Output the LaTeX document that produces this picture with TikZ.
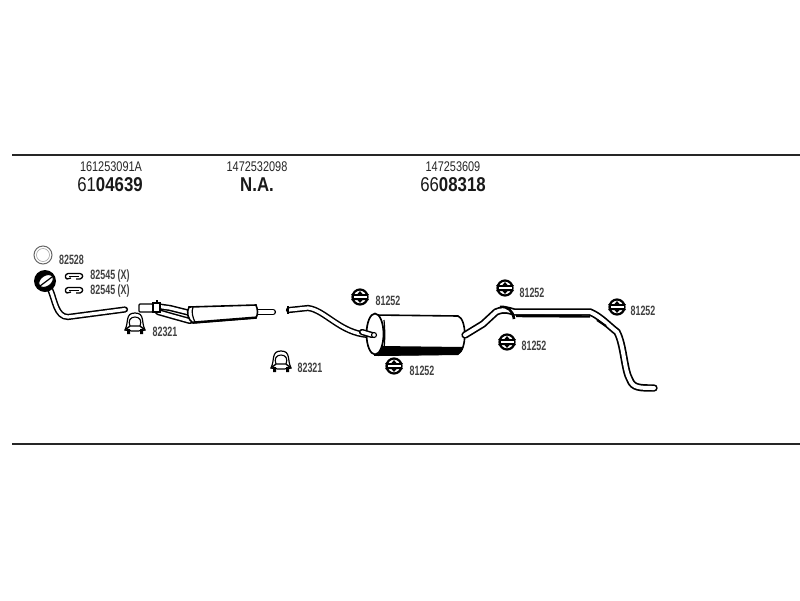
\documentclass[tikz,border=0pt]{standalone}
\usepackage{fontspec}
\setmainfont{Liberation Sans}
\tikzset{
  pipe/.style={double=white, double distance=3.2pt, line width=1.5pt, line cap=round},
  rearpipe/.style={double=white, double distance=4pt, line width=1.7pt, line cap=round},
  part/.style={xscale=.66, font=\fontsize{13.5}{13.5}\selectfont\bfseries, text=black!75, inner sep=0pt},
  ref/.style={xscale=.78, font=\fontsize{14}{14}\selectfont, text=black!85, inner sep=0pt},
  numero/.style={xscale=.84, font=\fontsize{20}{20}\selectfont, text=black!90, inner sep=0pt},
  hanger/.pic={
    \draw[line width=2.2pt, fill=white] (0,0) circle (7.5pt);
    \fill (-9,-3) -- (9,-3) -- (7,0) -- (9,3) -- (-9,3) -- (-7,0) -- cycle;
    \fill[white] (-6.5,-1.2) rectangle (6.5,1.2);
    \fill (0,-3) -- (-2.5,-3) -- (0,-6) -- (2.5,-3) -- cycle (-2.5,3) -- (0,6) -- (2.5,3) -- cycle;
  },
  clamp/.pic={
    \draw[line width=1.2pt, fill=white] (-10,5) .. controls (-6,-3) and (-10,-12) .. (0,-12) .. controls (10,-12) and (6,-3) .. (10,5) -- (3,6) -- (-3,6) -- cycle;
    \draw[line width=1.1pt] (-5,1) .. controls (-7,-4) and (-5,-8) .. (0,-8) .. controls (5,-8) and (7,-4) .. (5,1);
    \draw[line width=1.4pt] (-10,5) -- (-5,1) -- (5,1) -- (10,5);
    \fill (-8,9) rectangle (-5,4) (5,9) rectangle (8,4);
  },
  clip part/.pic={
    \draw[line width=1.3pt] (-3,1) -- (-7,2) .. controls (-9.5,1) and (-9,-3) .. (-6,-3.5) -- (6,-3.5) .. controls (9.5,-3) and (9.5,1) .. (6,2) -- (2,2);
    \draw[line width=1pt] (-5,-.5) -- (5,-.5);
  }
}
\begin{document}
\begin{tikzpicture}[x=1pt, y=-1pt]
\useasboundingbox (0,0) rectangle (800,600);
% Lineas
\draw[line width=1.6pt, black!85] (12,155) coordinate (topa) -- (800,155) coordinate (topb);
\draw[line width=1.4pt, black!85] (12,444) coordinate (bota) -- (800,444) coordinate (botb);
% Cabecera
\node[ref] (refa) at (111,167) {161253091A};
\node[ref] (refb) at (257,167) {1472532098};
\node[ref] (refc) at (453,167) {147253609};
\node[numero] (numa) at (110,185) {61\textbf{04639}};
\node[numero] (numb) at (257,185) {\textbf{N.A.}};
\node[numero] (numc) at (453,185) {66\textbf{08318}};
% Anillo y abrazaderas
\draw[line width=1pt, black!60] (43,255) circle (9pt);
\draw[line width=.6pt, black!35] (43,255) circle (6.5pt);
\node[part] (ring) at (71.5,260) {82528};
\pic at (74,277) {clip part};
\pic at (74,291) {clip part};
\node[part] (clipa) at (110,276) {82545 (X)};
\node[part] (clipb) at (110,291) {82545 (X)};
% Tubo delantero
\draw[pipe] (50,289) .. controls (55,300) and (56,317) .. (68,317) -- (125,309.5);
\fill (45,281) circle (11pt);
\draw[line width=1pt, fill=white, rotate around={35:(46,281)}] (46,281) ellipse (8pt and 5.5pt);
\draw[line width=1.2pt] (40,286) -- (52,277);
% Silenciador delantero
\draw[pipe] (156,306) -- (170,308) -- (190,313);
\draw[pipe] (158,312) -- (172,316) -- (190,321);
\draw[line width=1.3pt, fill=white, rounded corners=1pt] (139,304) rectangle (153,312);
\draw[line width=1.3pt, fill=white] (153,303) rectangle (160,312);
\draw[line width=1.5pt] (157,300) -- (157,304);
\draw[pipe] (257,312) -- (273,312);
\draw[line width=1.6pt, fill=white] (189,307) -- (256,305) .. controls (258,310) and (258,314) .. (256,318) -- (193,323) .. controls (188,320) and (186,312) .. (189,307) -- cycle;
\draw[line width=2.2pt] (193,322.5) -- (256,317.5);
\draw[line width=1.2pt] (193,307) .. controls (191,312) and (193,318) .. (195,322);
\pic at (135,325) {clamp};
\node[part] (clampa) at (165,331.5) {82321};
% Tubo central
\draw[pipe] (289,310) -- (308,308) .. controls (325,310) and (340,333) .. (368,335);
\draw[line width=1.2pt] (288,306) -- (288,314);
\pic at (281,363) {clamp};
\node[part] (clampb) at (310,367.5) {82321};
% Silenciador trasero
\draw[line width=1.6pt, fill=white] (375,315) -- (458,316) .. controls (467,319) and (467,350) .. (458,354) -- (375,355) -- cycle;
\fill (380,346) -- (463,347) .. controls (462,351) and (460,353) .. (458,355) -- (378,356) -- cycle;
\draw[line width=1.7pt, fill=white] (375,334) ellipse (8.5pt and 20.5pt);
\draw[line width=1.2pt] (384,320) .. controls (385,330) and (385,340) .. (384,348);
\draw[pipe] (362,332) -- (372,335);
\draw[line width=1.1pt, fill=white] (374,335) circle (2.5pt);
% Tubo trasero
\draw[rearpipe] (465,335) -- (483,324) -- (496,312) .. controls (505,308) and (510,311) .. (514,312) -- (590,312) .. controls (600,316) and (608,325) .. (617,332) .. controls (624,345) and (624,370) .. (630,380) .. controls (633,388) and (640,388) .. (654,388);
\draw[line width=2.6pt] (500,307) .. controls (508,306) and (513,311) .. (514,319);
\draw[line width=2.4pt] (516,316) -- (590,316.5);
\draw[line width=2.2pt] (597,320) -- (606,326);
% Soportes
\foreach \hx/\hy/\lx/\ly/\hname in {360/297/388/301/a, 394/366/422/371/b, 505/288/532/293/c, 507/342/534/346/d, 617/307/643/311/e}{
  \pic at (\hx,\hy) {hanger};
  \node[part] (hanger\hname) at (\lx,\ly) {81252};
}
\end{tikzpicture}
\end{document}
